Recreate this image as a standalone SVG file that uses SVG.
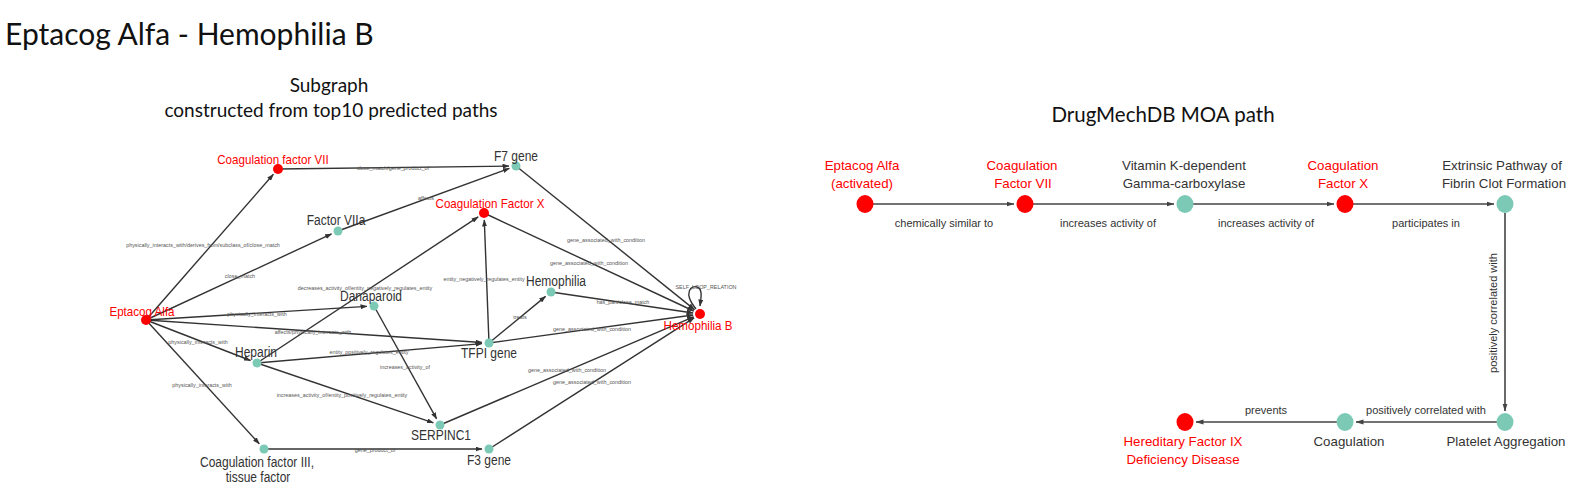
<svg xmlns="http://www.w3.org/2000/svg" width="1579" height="486" viewBox="0 0 1579 486">
<style>
.title{font-family:Lato,"Liberation Sans",sans-serif;fill:#111}
.nl{font-family:"Liberation Sans",Arial,sans-serif;font-size:12px;fill:#333;text-anchor:middle}
.nr{font-family:"Liberation Sans",Arial,sans-serif;font-size:11.6px;fill:#ff0000;text-anchor:middle}
.el{font-family:"Liberation Sans",Arial,sans-serif;font-size:5.4px;fill:#555;text-anchor:middle}
.e{stroke:#333;stroke-width:1.4;fill:none;marker-end:url(#a)}
.teal{fill:#7ccab6}
.red{fill:#ff0000}
.rl{font-family:"Liberation Sans",Arial,sans-serif;font-size:13.3px;fill:#333;text-anchor:middle}
.rr{font-family:"Liberation Sans",Arial,sans-serif;font-size:13.3px;fill:#ff0000;text-anchor:middle}
.rel{font-family:"Liberation Sans",Arial,sans-serif;font-size:11px;fill:#333;text-anchor:middle}
.re{stroke:#444;stroke-width:1.6;fill:none;marker-end:url(#b)}
</style>
<defs>
<marker id="a" markerUnits="userSpaceOnUse" markerWidth="7" markerHeight="5" refX="6.5" refY="2.5" orient="auto"><path d="M0,0 L7,2.5 L0,5 z" fill="#333"/></marker>
<marker id="b" markerUnits="userSpaceOnUse" markerWidth="8" markerHeight="6" refX="7.5" refY="3" orient="auto"><path d="M0,0.5 L8,3 L0,5.5 z" fill="#444"/></marker>
</defs>
<rect width="1579" height="486" fill="#fff"/>
<text class="title" x="5" y="45" font-size="30">Eptacog Alfa - Hemophilia B</text>
<text class="title" x="329" y="92" font-size="19" text-anchor="middle">Subgraph</text>
<text class="title" x="331" y="117" font-size="19" text-anchor="middle">constructed from top10 predicted paths</text>
<text class="title" x="1163" y="122" font-size="20.5" text-anchor="middle">DrugMechDB MOA path</text>

<g id="connectors-left">
<line class="e" x1="146" y1="320" x2="273.4" y2="174.3"/>
<line class="e" x1="146" y1="320" x2="331.6" y2="233.9"/>
<line class="e" x1="278" y1="169" x2="509" y2="166.1"/>
<line class="e" x1="338" y1="231" x2="509.4" y2="168.4"/>
<line class="e" x1="146" y1="320" x2="367" y2="306.4"/>
<line class="e" x1="146" y1="320" x2="482" y2="342.5"/>
<line class="e" x1="146" y1="320" x2="250.5" y2="360.5"/>
<line class="e" x1="146" y1="320" x2="259.3" y2="443.8"/>
<line class="e" x1="516" y1="166" x2="694.5" y2="309.6"/>
<line class="e" x1="484" y1="213" x2="693.7" y2="311"/>
<line class="e" x1="257" y1="363" x2="478.2" y2="216.9"/>
<line class="e" x1="489" y1="343" x2="484.3" y2="220"/>
<line class="e" x1="489" y1="343" x2="545.6" y2="296.4"/>
<line class="e" x1="551" y1="292" x2="693.1" y2="313"/>
<line class="e" x1="489" y1="343" x2="693.1" y2="315"/>
<line class="e" x1="257" y1="363" x2="482" y2="343.6"/>
<line class="e" x1="257" y1="363" x2="433.4" y2="422.8"/>
<line class="e" x1="374" y1="306" x2="436.6" y2="418.9"/>
<line class="e" x1="440" y1="425" x2="693.6" y2="316.8"/>
<line class="e" x1="489" y1="449" x2="694.1" y2="317.8"/>
<line class="e" x1="264" y1="449" x2="482" y2="449"/>
<path class="e" d="M696,309 C682,292 692,285 697,287 C703,289 701,298 700,306"/>
<text class="el" x="203" y="247">physically_interacts_with/derives_from/subclass_of/close_match</text>
<text class="el" x="240" y="278">close_match</text>
<text class="el" x="393" y="170">close_match/gene_product_of</text>
<text class="el" x="426" y="200">affects</text>
<text class="el" x="365" y="290">decreases_activity_of/entity_negatively_regulates_entity</text>
<text class="el" x="257" y="316">physically_interacts_with</text>
<text class="el" x="313" y="334">affects/physically_interacts_with</text>
<text class="el" x="198" y="344">physically_interacts_with</text>
<text class="el" x="202" y="387">physically_interacts_with</text>
<text class="el" x="369" y="354">entity_positively_regulates_entity</text>
<text class="el" x="342" y="397">increases_activity_of/entity_positively_regulates_entity</text>
<text class="el" x="405" y="369">increases_activity_of</text>
<text class="el" x="484" y="281">entity_negatively_regulates_entity</text>
<text class="el" x="520" y="319">treats</text>
<text class="el" x="592" y="331">gene_associated_with_condition</text>
<text class="el" x="567" y="372">gene_associated_with_condition</text>
<text class="el" x="592" y="384">gene_associated_with_condition</text>
<text class="el" x="606" y="242">gene_associated_with_condition</text>
<text class="el" x="589" y="265">gene_associated_with_condition</text>
<text class="el" x="623" y="304">has_part/close_match</text>
<text class="el" x="706" y="289">SELF_LOOP_RELATION</text>
<text class="el" x="375" y="452">gene_product_of</text>
</g>

<g id="n-eptacog"><circle class="red" cx="146" cy="320" r="5"/><text class="nr" transform="translate(142,316) scale(1,1.15)">Eptacog Alfa</text></g>
<g id="n-cf7"><circle class="red" cx="278" cy="169" r="5"/><text class="nr" transform="translate(273,164) scale(1,1.15)">Coagulation factor VII</text></g>
<g id="n-f7a"><circle class="teal" cx="338" cy="231" r="4.5"/><text class="nl" transform="translate(336,225) scale(1,1.15)">Factor VIIa</text></g>
<g id="n-f7g"><circle class="teal" cx="516" cy="166" r="4.5"/><text class="nl" transform="translate(516,161) scale(1,1.15)">F7 gene</text></g>
<g id="n-cfx"><circle class="red" cx="484" cy="213" r="5"/><text class="nr" transform="translate(490,208) scale(1,1.15)">Coagulation Factor X</text></g>
<g id="n-dan"><circle class="teal" cx="374" cy="306" r="4.5"/><text class="nl" transform="translate(371,301) scale(1,1.15)">Danaparoid</text></g>
<g id="n-hem"><circle class="teal" cx="551" cy="292" r="4.5"/><text class="nl" transform="translate(556,286) scale(1,1.15)">Hemophilia</text></g>
<g id="n-hemb"><circle class="red" cx="700" cy="314" r="5"/><text class="nr" transform="translate(698,330) scale(1,1.15)">Hemophilia B</text></g>
<g id="n-tfpi"><circle class="teal" cx="489" cy="343" r="4.5"/><text class="nl" transform="translate(489,358) scale(1,1.15)">TFPI gene</text></g>
<g id="n-hep"><circle class="teal" cx="257" cy="363" r="4.5"/><text class="nl" transform="translate(256,357) scale(1,1.15)">Heparin</text></g>
<g id="n-serp"><circle class="teal" cx="440" cy="425" r="4.5"/><text class="nl" transform="translate(441,440) scale(1,1.15)">SERPINC1</text></g>
<g id="n-f3"><circle class="teal" cx="489" cy="449" r="4.5"/><text class="nl" transform="translate(489,465) scale(1,1.15)">F3 gene</text></g>
<g id="n-cf3"><circle class="teal" cx="264" cy="449" r="4.5"/><text class="nl" transform="translate(257,467) scale(1,1.15)">Coagulation factor III,</text><text class="nl" transform="translate(258,482) scale(1,1.15)">tissue factor</text></g>

<g id="connectors-right">
<line class="re" x1="873" y1="204" x2="1014" y2="204"/>
<line class="re" x1="1033" y1="204" x2="1174" y2="204"/>
<line class="re" x1="1193" y1="204" x2="1334" y2="204"/>
<line class="re" x1="1353" y1="204" x2="1494" y2="204"/>
<line class="re" x1="1505" y1="213" x2="1505" y2="411"/>
<line class="re" x1="1497" y1="422" x2="1356" y2="422"/>
<line class="re" x1="1337" y1="422" x2="1196" y2="422"/>
<text class="rel" x="944" y="227">chemically similar to</text>
<text class="rel" x="1108" y="227">increases activity of</text>
<text class="rel" x="1266" y="227">increases activity of</text>
<text class="rel" x="1426" y="227">participates in</text>
<text class="rel" transform="translate(1497,313) rotate(-90)" x="0" y="0">positively correlated with</text>
<text class="rel" x="1426" y="414">positively correlated with</text>
<text class="rel" x="1266" y="414">prevents</text>
</g>

<g id="r-eptacog"><ellipse class="red" cx="865" cy="204" rx="8.5" ry="9"/><text class="rr" x="862" y="170">Eptacog Alfa</text><text class="rr" x="862" y="188">(activated)</text></g>
<g id="r-cf7"><ellipse class="red" cx="1025" cy="204" rx="8.5" ry="9"/><text class="rr" x="1022" y="170">Coagulation</text><text class="rr" x="1023" y="188">Factor VII</text></g>
<g id="r-vitk"><ellipse class="teal" cx="1185" cy="204" rx="8.5" ry="9"/><text class="rl" x="1184" y="170">Vitamin K-dependent</text><text class="rl" x="1184" y="188">Gamma-carboxylase</text></g>
<g id="r-cfx"><ellipse class="red" cx="1345" cy="204" rx="8.5" ry="9"/><text class="rr" x="1343" y="170">Coagulation</text><text class="rr" x="1343" y="188">Factor X</text></g>
<g id="r-extr"><ellipse class="teal" cx="1505" cy="204" rx="8.5" ry="9"/><text class="rl" x="1502" y="170">Extrinsic Pathway of</text><text class="rl" x="1504" y="188">Fibrin Clot Formation</text></g>
<g id="r-plat"><ellipse class="teal" cx="1505" cy="422" rx="8.5" ry="9"/><text class="rl" x="1506" y="446">Platelet Aggregation</text></g>
<g id="r-coag"><ellipse class="teal" cx="1345" cy="422" rx="8.5" ry="9"/><text class="rl" x="1349" y="446">Coagulation</text></g>
<g id="r-hered"><ellipse class="red" cx="1185" cy="422" rx="8.5" ry="9"/><text class="rr" x="1183" y="446">Hereditary Factor IX</text><text class="rr" x="1183" y="464">Deficiency Disease</text></g>
</svg>
